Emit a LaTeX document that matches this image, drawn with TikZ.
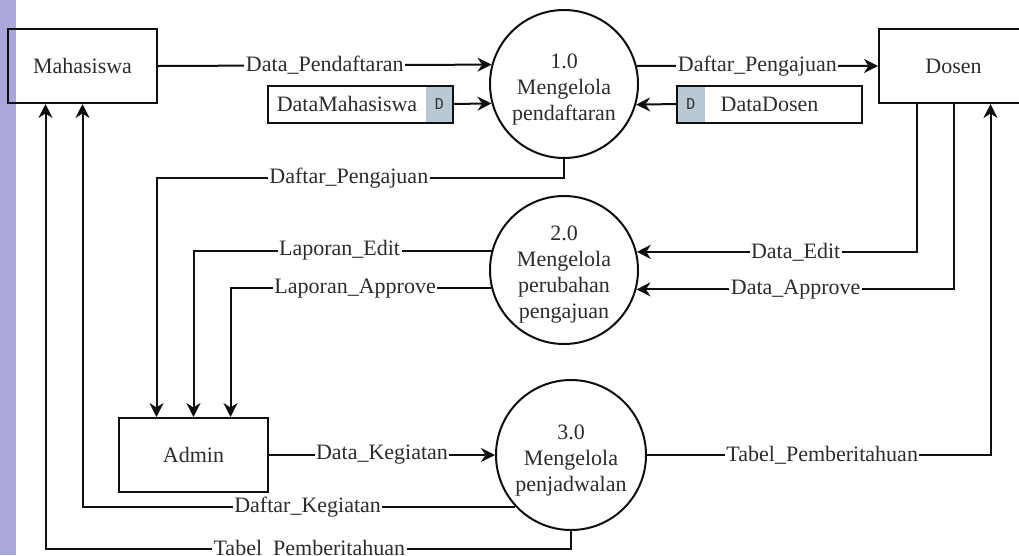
\documentclass[tikz,border=0pt]{standalone}
\usepackage{fontspec}
\setmainfont{Liberation Serif}
\newfontfamily\storefont{DejaVu Sans Mono}
\usetikzlibrary{arrows.meta}
\definecolor{sidebar}{RGB}{170,167,218}
\definecolor{dbox}{RGB}{186,200,211}
\definecolor{ink}{RGB}{15,15,15}

\begin{document}
\begin{tikzpicture}[x=1pt,y=-1pt,
  every node/.style={font=\fontsize{22}{26}\selectfont, text=ink!88},
  entity/.style={draw=ink, line width=2pt, minimum width=149, minimum height=74, inner sep=0},
  process/.style={draw=ink, fill=white, line width=2pt, circle, minimum size=148, inner sep=0},
  ptext/.style={align=center, inner sep=0},
  store/.style={draw=ink, line width=2pt, minimum width=185, minimum height=37, inner sep=0},
  dpart/.style 2 args={path picture={\fill[dbox] ([xshift=#1]path picture bounding box.north west) rectangle ([xshift=#2]path picture bounding box.south west);}},
  flowtip/.tip={Stealth[length=14pt,width=14pt,inset=4.5pt]},
  flow/.style={draw=ink, line width=2pt, arrows={-flowtip}},
  lbl/.style={fill=white, inner xsep=1.5pt, inner ysep=0pt},
  dtag/.style={font=\storefont\fontsize{15}{15}\selectfont, text=ink!85}
]
\useasboundingbox (0,0) rectangle (1019,555);
\clip (0,0) rectangle (1019,555);

% side bar
\fill[sidebar] (0,0) rectangle (16,555);

% external entities
\node[entity] (mhs) at (82.5,66) {Mahasiswa};
\node[entity] (dsn) at (953.5,66) {Dosen};
\node[entity] (adm) at (193.5,455) {Admin};

% processes (circle, then its caption set a little low)
\node[process] (p1) at (564,84) {};
\node[ptext] (p1t) at ([yshift=-6]p1.center) {1.0\\Mengelola\\pendaftaran};
\node[process] (p2) at (564,270) {};
\node[ptext] (p2t) at ([yshift=-5]p2.center) {2.0\\Mengelola\\perubahan\\pengajuan};
\node[process, minimum size=150] (p3) at (571,455) {};
\node[ptext] (p3t) at ([yshift=-6]p3.center) {3.0\\Mengelola\\penjadwalan};

% data stores
\node[store, dpart={158}{186}] (ds1) at (360.5,104) {};
\node (ds1t) at ([xshift=-13.5]ds1.center) {DataMahasiswa};
\node[dtag] (ds1d) at ([xshift=79]ds1.center) {D};
\node[store, dpart={-1}{28}] (ds2) at (769.5,104) {};
\node (ds2t) at ([xshift=0]ds2.center) {DataDosen};
\node[dtag] (ds2d) at ([xshift=-78.5]ds2.center) {D};

% data flows
\draw[flow] (mhs.east) -- node[lbl]{Data\_Pendaftaran} (p1.165.92);
\draw[flow] (ds1.east) -- (p1.195.68);
\draw[flow] (p1.14.08) -- node[lbl]{Daftar\_Pengajuan} (dsn.west);
\draw[flow] (ds2.west) -- (p1.344.32);
\draw[flow] (p1.south) -- ++(0,19) -| node[lbl,pos=0.264]{Daftar\_Pengajuan} ([xshift=-37]adm.north);

\draw[flow] (p2.165.12) -| node[lbl,pos=0.255]{Laporan\_Edit} (adm.north);
\draw[flow] (p2.194.88) -| node[lbl,pos=0.261]{Laporan\_Approve} ([xshift=37]adm.north);
\draw[flow] ([xshift=-37]dsn.south) |- node[lbl,pos=0.716]{Data\_Edit} (p2.14.88);
\draw[flow] (dsn.south) |- node[lbl,pos=0.749]{Data\_Approve} (p2.345.12);

\draw[flow] (adm.east) -- node[lbl]{Data\_Kegiatan} (p3.west);
\draw[flow] (p3.east) -| node[lbl,pos=0.255]{Tabel\_Pemberitahuan} ([xshift=37]dsn.south);
\draw[flow] (p3.223.9) -| node[lbl,pos=0.24]{Daftar\_Kegiatan} (mhs.south);
\draw[flow] (p3.south) -- ++(0,18) -| node[lbl,pos=0.249]{Tabel\_Pemberitahuan} ([xshift=-37]mhs.south);
\end{tikzpicture}
\end{document}
